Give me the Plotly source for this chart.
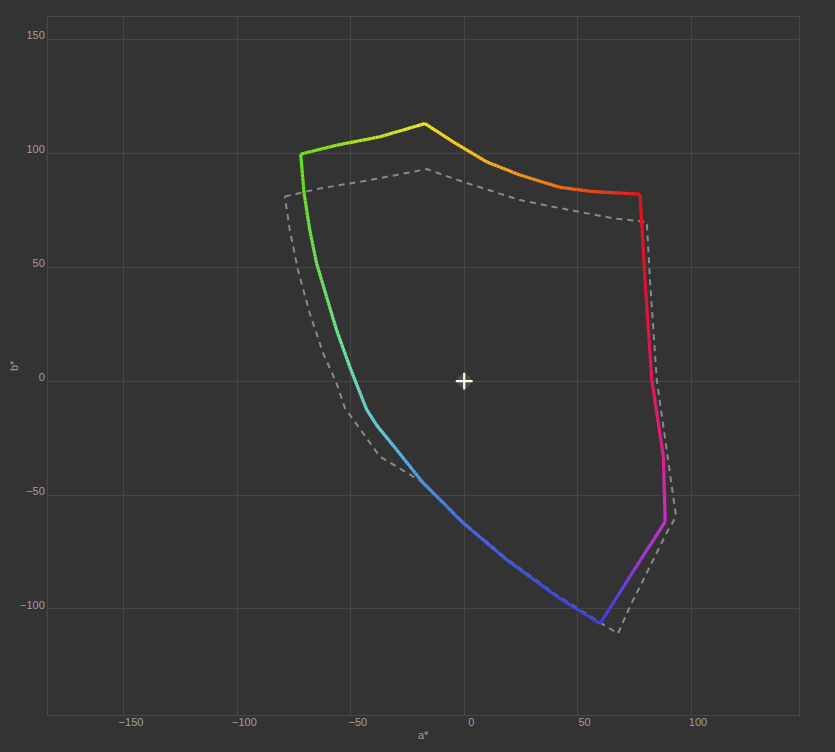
import numpy as np
import plotly.graph_objects as go

# Measured gamut boundary (solid, coloured)
gamut_a = [-72.1, -56.3, -37.2, -17.3, -4.9, 9.9, 24.6, 42.2, 56.9, 77.5,
           79.7, 82.7, 87.8, 88.6, 73.1, 59.9, 40.8, 18.7, -0.4, -18.1,
           -29.8, -38.5, -43.0, -46.0, -50.5, -56.3, -60.7, -65.1, -68.1, -70.6, -72.1]
gamut_b = [99.7, 103.6, 107.3, 113.1, 105.1, 96.3, 90.5, 85.1, 83.2, 82.1,
           44.4, 0.6, -33.1, -61.7, -85.7, -106.5, -94.5, -78.4, -62.3, -44.7,
           -30.1, -19.5, -12.5, -5.0, 6.4, 22.5, 37.1, 51.8, 66.4, 82.5, 99.7]

# Reference gamut (dashed grey)
ref_a = [-79.1, -63.7, -41.6, -16.5, -0.4, 24.6, 46.6, 65.8, 80.5, 81.9,
         84.9, 90.0, 93.4, 89.3, 73.1, 67.8, 59.9, 40.8, 18.7, -0.4,
         -18.1, -37.2, -52.6, -56.3, -62.2, -68.1, -73.3, -76.9, -79.1]
ref_b = [81.1, 84.6, 88.3, 93.1, 87.5, 79.5, 75.1, 71.5, 69.9, 44.4,
         0.6, -36.0, -59.5, -66.5, -98.9, -110.8, -106.0, -94.0, -78.0, -62.0,
         -44.5, -33.1, -11.8, -0.9, 12.3, 29.8, 48.8, 66.4, 81.1]

white_a = [0.0]
white_b = [0.0]

x_ticks = [-150, -100, -50, 0, 50, 100]
y_ticks = [-100, -50, 0, 50, 100, 150]

# hue-angle (deg) -> display colour anchors
hue_anchor = [0, 29, 46, 63, 80, 99, 126, 160, 200, 235, 270, 300, 310, 325, 339, 360]
hue_rgb = [(226, 24, 96), (226, 16, 50), (230, 20, 24), (240, 110, 26), (244, 170, 30),
           (246, 232, 30), (110, 224, 30), (110, 228, 150), (110, 216, 220),
           (90, 170, 225), (70, 110, 225), (64, 60, 225), (130, 60, 224),
           (205, 45, 210), (224, 32, 140), (226, 24, 96)]


def hue_color(a, b):
    h = np.degrees(np.arctan2(b, a)) % 360
    rgb = [np.interp(h, hue_anchor, [c[i] for c in hue_rgb]) for i in range(3)]
    return "rgb(%d,%d,%d)" % tuple(int(round(v)) for v in rgb)


fig = go.Figure()

fig.add_trace(go.Scatter(
    x=ref_a, y=ref_b, mode="lines",
    line=dict(color="#8a8a8a", width=2, dash="6px,5px"),
    hoverinfo="skip", showlegend=False))

# coloured gamut: each straight segment split into short pieces for the gradient
n_sub = 10
for i in range(len(gamut_a) - 1):
    a0, b0, a1, b1 = gamut_a[i], gamut_b[i], gamut_a[i + 1], gamut_b[i + 1]
    t = np.linspace(0, 1, n_sub + 1)
    xs = a0 + (a1 - a0) * t
    ys = b0 + (b1 - b0) * t
    for k in range(n_sub):
        mx, my = (xs[k] + xs[k + 1]) / 2, (ys[k] + ys[k + 1]) / 2
        fig.add_trace(go.Scatter(
            x=[xs[k], xs[k + 1]], y=[ys[k], ys[k + 1]], mode="lines",
            line=dict(color=hue_color(mx, my), width=3.2),
            hoverinfo="skip", showlegend=False))

# white point with glow
fig.add_trace(go.Scatter(
    x=white_a, y=white_b, mode="markers",
    marker=dict(symbol="circle", size=14, color="rgba(255,255,230,0.12)"),
    hoverinfo="skip", showlegend=False))
fig.add_trace(go.Scatter(
    x=white_a, y=white_b, mode="markers",
    marker=dict(symbol="cross-thin", size=12,
                line=dict(color="#fffbe8", width=2.2)),
    hoverinfo="skip", showlegend=False))

font_family = "Liberation Sans Narrow, Liberation Sans, Arial"
label_color = "#a0a0a0"
axis_common = dict(
    showgrid=True, gridcolor="#464646", gridwidth=1,
    zeroline=False, showline=True, linecolor="#484848", linewidth=1, mirror=True,
    ticks="", automargin=False,
    tickfont=dict(family=font_family, size=11, color=label_color),
)

plot_w = 835 - 48 - 36
plot_h = 752 - 17 - 37

fig.update_layout(
    width=835, height=752,
    paper_bgcolor="#333333", plot_bgcolor="#333333",
    margin=dict(l=48, r=36, t=17, b=37),
    xaxis=dict(range=[-183.5, 147.6], tickvals=x_ticks,
               ticklabelstandoff=-3, ticklabelshift=7,
               **axis_common),
    yaxis=dict(range=[-146.6, 159.9], tickvals=y_ticks,
               ticklabelstandoff=0, ticklabelshift=-4,
               **axis_common),
    annotations=[
        dict(text="a*", xref="paper", yref="paper",
             x=0.5, y=(752 - 37 - 735) / plot_h, xanchor="center", yanchor="middle",
             showarrow=False, font=dict(family=font_family, size=11, color=label_color)),
        dict(text="b*", xref="paper", yref="paper",
             x=(14 - 48) / plot_w, y=(752 - 37 - 366) / plot_h,
             xanchor="center", yanchor="middle", showarrow=False, textangle=-90,
             font=dict(family=font_family, size=11, color=label_color)),
    ],
)

fig.write_html("out.html")
